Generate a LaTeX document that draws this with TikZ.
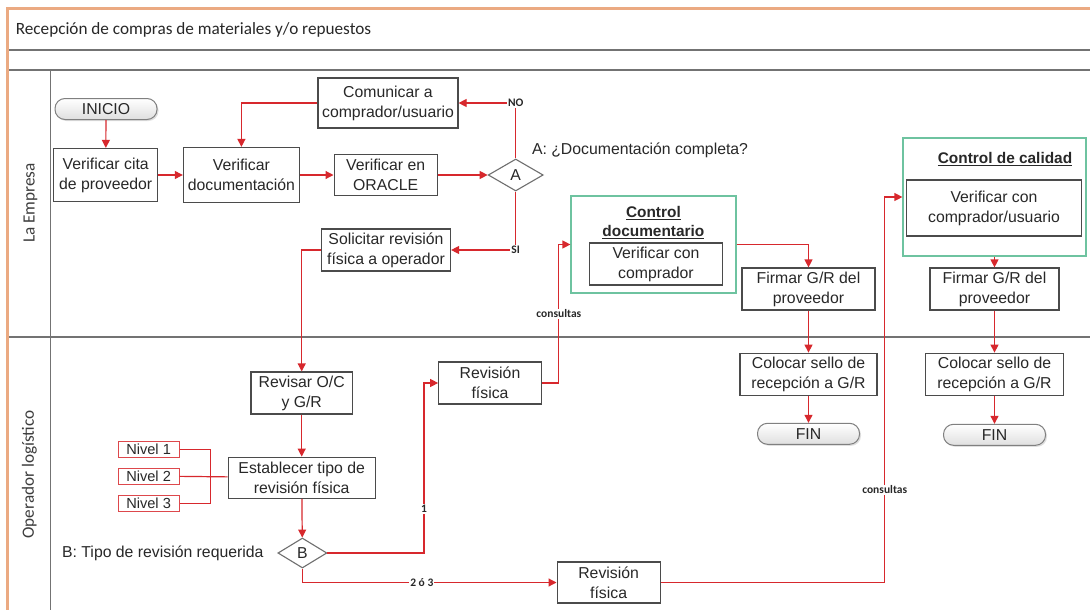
\documentclass[tikz,border=0pt]{standalone}
\usepackage{fontspec}
\setmainfont{Liberation Sans}
\newfontfamily\calfont{Carlito}
\usepackage{tikz}
\usetikzlibrary{shapes.geometric, arrows.meta, positioning, shadows}

\definecolor{arrred}{RGB}{215,40,45}
\definecolor{boxgray}{RGB}{75,75,75}
\definecolor{txtgray}{RGB}{40,40,40}
\definecolor{framegray}{RGB}{115,115,115}
\definecolor{frameor}{RGB}{235,170,130}
\definecolor{grpgreen}{RGB}{110,195,160}

\begin{document}
\begin{tikzpicture}[
    x=1pt, y=-1pt,
    box/.style={rectangle, draw=boxgray, line width=1.2pt, fill=white, text=txtgray, minimum width=#1, minimum height=42, inner sep=0pt, align=center, font=\fontsize{15.8}{20}\selectfont},
    term/.style={rectangle, rounded corners=10pt, draw=gray, line width=1pt, top color=white, bottom color=gray!25, drop shadow={shadow xshift=1.5pt, shadow yshift=-1.5pt, opacity=0.25}, minimum width=102, minimum height=21, inner sep=0pt, text=txtgray, font=\fontsize{15.8}{20}\selectfont},
    dec/.style={diamond, draw=boxgray!80, line width=1.1pt, fill=white, inner sep=0pt, text=txtgray, font=\fontsize{15.8}{20}\selectfont},
    niv/.style={rectangle, draw=arrred!85, line width=1pt, fill=white, minimum width=61, minimum height=16, inner sep=0pt, text=txtgray, font=\fontsize{14.6}{16}\selectfont},
    grp/.style={rectangle, draw=grpgreen, line width=1.2pt},
    grptitle/.style={align=center, text=txtgray, inner sep=0pt, font=\fontsize{15.4}{19}\selectfont\bfseries},
    plain/.style={text=txtgray, inner sep=0pt, font=\fontsize{15.8}{20}\selectfont},
    lane/.style={rotate=90, text=txtgray!90, inner sep=0pt, font=\calfont\fontsize{17.2}{20}\selectfont},
    lbl/.style={fill=white, inner sep=1pt, text=txtgray, font=\calfont\bfseries\fontsize{11.5}{12}\selectfont},
    arr/.style={-{Triangle[length=8pt, width=8pt]}, draw=arrred, line width=1.2pt},
    lnk/.style={draw=arrred, line width=1.2pt},
]
\useasboundingbox (0,0) rectangle (1090,610);
\fill[white] (0,0) rectangle (1090,610);

% marco y carriles
\draw[framegray, line width=1.5pt] (7.6,50) -- (1090,50);
\draw[framegray, line width=1.5pt] (7.6,70) -- (1090,70);
\draw[framegray, line width=1.5pt] (50.4,70) -- (50.4,610);
\draw[framegray, line width=1.5pt] (7.6,337) -- (1090,337);
\draw[frameor, line width=2.5pt] (7.6,610) -- (7.6,8.5) -- (1090,8.5);
\node[anchor=west, text=txtgray, inner sep=0pt, font=\calfont\fontsize{17.2}{20}\selectfont] (titulo) at (15.6,30) {Recepción de compras de materiales y/o repuestos};
\node[lane] (empresa) at (30.6,203) {La Empresa};
\node[lane] (operador) at (29.5,474.5) {Operador logístico};

% La Empresa
\node[term] (inicio) at (106,109) {INICIO};
\node[box=104, minimum height=53] (cita) at (105.7,175) {Verificar cita\\de proveedor};
\node[box=116, minimum height=55] (vdoc) at (241.4,175) {Verificar\\documentación};
\node[box=103, minimum height=41] (oracle) at (385.6,175) {Verificar en\\ORACLE};
\node[box=140, minimum height=50] (comu) at (388,103) {Comunicar a\\comprador/usuario};
\node[dec, minimum width=55, minimum height=32] (decA) at (515.7,175) {A};
\node[plain, anchor=west] (pregA) at (531.8,150) {A: ¿Documentación completa?};
\node[box=129] (soli) at (386,250) {Solicitar revisión\\física a operador};

\node[grp, minimum width=165, minimum height=97] (cdoc) at (653.5,244.5) {};
\node[grptitle] (cdoct) at (653.4,222.5) {\underline{Control}\\\underline{documentario}};
\node[box=133.5] (vcomp) at (656,264) {Verificar con\\comprador};
\node[box=133] (firm1) at (808.5,289) {Firmar G/R del\\proveedor};

\node[grp, minimum width=183, minimum height=118] (ccal) at (994.5,197) {};
\node[grptitle] (ccalt) at (1005,159) {\underline{Control de calidad}};
\node[box=174.5, minimum height=56] (vcompu) at (994,208) {Verificar con\\comprador/usuario};
\node[box=129] (firm2) at (994.5,289) {Firmar G/R del\\proveedor};

% Operador logistico
\node[box=101.5] (revoc) at (301.7,393) {Revisar O/C\\y G/R};
\node[box=147, minimum height=41, below=42pt of revoc] (estab) {Establecer tipo de\\revisión física};
\node[niv] (niv1) at (148.6,449.5) {Nivel 1};
\node[niv] (niv2) at (148.6,476) {Nivel 2};
\node[niv] (niv3) at (148.6,503.5) {Nivel 3};
\node[dec, minimum width=49, minimum height=30] (decB) at (302.4,553) {B};
\node[plain, anchor=west] (pregB) at (61.9,553) {B: Tipo de revisión requerida};
\node[box=102.5] (rev1) at (490,383) {Revisión\\física};
\node[box=103, minimum height=41] (rev2) at (608.6,582.5) {Revisión\\física};

\node[box=137, below=42pt of firm1] (sello1) {Colocar sello de\\recepción a G/R};
\node[term, below=27pt of sello1] (fin1) {FIN};
\node[box=138, below=42pt of firm2] (sello2) {Colocar sello de\\recepción a G/R};
\node[term, below=28pt of sello2] (fin2) {FIN};

% conectores
\draw[arr] (inicio) -- (cita);
\draw[arr] (cita) -- (vdoc);
\draw[arr] (vdoc) -- (oracle);
\draw[arr] (oracle) -- (decA);
\draw[arr] (decA.north) |- node[lbl]{NO} (comu.east);
\draw[arr] (decA.south) |- node[lbl]{SI} (soli.east);
\draw[arr] (comu.west) -| (vdoc.north);
\draw[arr] (soli.west) -| (revoc.north);
\draw[arr] (revoc) -- (estab);
\draw[arr] (estab) -- (decB);
\draw[lnk] (niv1.east) -- ++(31,0) |- (niv3.east);
\draw[lnk] (niv2) -- (estab);
\draw[arr] (decB.east) -- ++(96.6,0) |- node[lbl, pos=0.13]{1} (rev1.west);
\draw[arr] (decB.south) |- node[lbl, pos=0.735]{2 ó 3} (rev2.west);
\draw[arr] (rev1.east) -- ++(17,0) |- node[lbl, pos=0.25]{consultas} (cdoc.west);
\draw[arr] (rev2.east) -- ++(224,0) |- node[lbl, pos=0.12]{consultas} (ccal.west);
\draw[arr] (cdoc.east) -| (firm1.north);
\draw[arr] (ccal) -- (firm2);
\draw[arr] (firm1) -- (sello1);
\draw[arr] (sello1) -- (fin1);
\draw[arr] (firm2) -- (sello2);
\draw[arr] (sello2) -- (fin2);
\end{tikzpicture}
\end{document}
